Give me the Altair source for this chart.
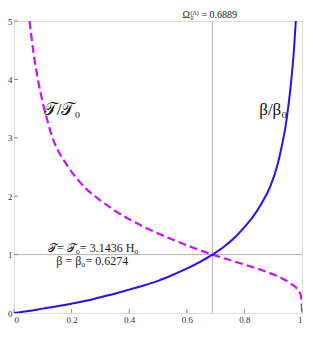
import altair as alt
import pandas as pd

# ---- data ----
beta_x = [0.0, 0.05, 0.1, 0.15, 0.2, 0.25, 0.3, 0.35, 0.4, 0.45, 0.5, 0.55, 0.6,
          0.6889, 0.73, 0.77, 0.8, 0.83, 0.86, 0.89, 0.914, 0.93, 0.943, 0.952,
          0.96, 0.966, 0.972, 0.9785]
beta_y = [0.0, 0.035, 0.075, 0.115, 0.16, 0.21, 0.27, 0.33, 0.40, 0.47, 0.55, 0.65, 0.76,
          1.0, 1.14, 1.31, 1.47, 1.65, 1.88, 2.17, 2.52, 2.86, 3.2, 3.52,
          3.85, 4.15, 4.5, 5.0]

temp_x = [0.054, 0.068, 0.083, 0.1, 0.118, 0.135, 0.151, 0.175, 0.195, 0.22, 0.25,
          0.294, 0.33, 0.36, 0.41, 0.47, 0.53, 0.6, 0.6889, 0.734, 0.78, 0.833,
          0.88, 0.92, 0.943, 0.965, 0.982, 0.992, 0.997, 0.9995, 1.0]
temp_y = [5.0, 4.45, 4.0, 3.6, 3.26, 2.98, 2.80, 2.60, 2.45, 2.29, 2.13,
          1.95, 1.82, 1.72, 1.58, 1.43, 1.30, 1.16, 1.0, 0.93, 0.86, 0.78,
          0.70, 0.62, 0.56, 0.49, 0.42, 0.35, 0.27, 0.15, 0.0]

omega_lambda = [0.6889]
ref_level = [1.0]
x_tick_values = [0, 0.2, 0.4, 0.6, 0.8, 1]
y_tick_values = [0, 1, 2, 3, 4, 5]

curve_labels = ["𝒯/𝒯₀", "β/β₀"]
curve_label_x = [0.167, 0.9]
curve_label_y = [3.48, 3.47]

note_labels = ["𝒯= 𝒯₀= 3.1436 H₀", "β = β₀= 0.6274"]
note_x = [0.275, 0.272]
note_y = [1.12, 0.89]

# ---- layout / style ----
W, H = 288, 292
FONT = "Liberation Serif"
BLUE = "#2a0dff"
MAGENTA = "#cc11ff"
GRAY = "#b4b4b4"
TXT = "#222222"

xs = alt.Scale(domain=[0, 1], nice=False, zero=False)
ys = alt.Scale(domain=[0, 5], nice=False, zero=False)

x_axis = alt.Axis(values=x_tick_values, grid=False, ticks=False, domain=False,
                  labelFont=FONT, labelFontSize=9, labelColor="#333333",
                  labelPadding=2, title=None,
                  labelExpr="datum.value == 0 ? '0' : datum.value == 1 ? '1' : format(datum.value, '.1f')")
y_axis = alt.Axis(values=y_tick_values, grid=False, ticks=False, domain=False,
                  labelFont=FONT, labelFontSize=9, labelColor="#333333",
                  labelPadding=2, title=None, format="d")


def X(field="x"):
    return alt.X(f"{field}:Q", scale=xs, axis=x_axis, title=None)


def Y(field="y"):
    return alt.Y(f"{field}:Q", scale=ys, axis=y_axis, title=None)


beta_df = pd.DataFrame({"x": beta_x, "y": beta_y})
temp_df = pd.DataFrame({"x": temp_x, "y": temp_y})

vline = alt.Chart(pd.DataFrame({"x": omega_lambda})).mark_rule(
    color=GRAY, strokeWidth=1).encode(x=X())
hline = alt.Chart(pd.DataFrame({"y": ref_level})).mark_rule(
    color=GRAY, strokeWidth=1).encode(y=Y())

xticks = alt.Chart(pd.DataFrame({"x": x_tick_values})).mark_rule(
    color="#888888", strokeWidth=1).encode(x=X(), y=alt.value(H), y2=alt.value(H - 4))
yticks = alt.Chart(pd.DataFrame({"y": y_tick_values})).mark_rule(
    color="#888888", strokeWidth=1).encode(y=Y(), x=alt.value(0), x2=alt.value(4))

beta_line = alt.Chart(beta_df).mark_line(
    color=BLUE, strokeWidth=2, interpolate="monotone", clip=True).encode(
    x=X(), y=Y(), order="x:Q")
temp_line = alt.Chart(temp_df).mark_line(
    color=MAGENTA, strokeWidth=2.2, strokeDash=[8, 4], interpolate="monotone",
    clip=True).encode(x=X(), y=Y(), order="x:Q")

curve_text = alt.Chart(pd.DataFrame({"x": curve_label_x, "y": curve_label_y,
                                     "t": curve_labels})).mark_text(
    font=FONT, fontSize=17, color="#111111", align="center", baseline="middle").encode(
    x=X(), y=Y(), text="t:N")

note_text = alt.Chart(pd.DataFrame({"x": note_x, "y": note_y, "t": note_labels})).mark_text(
    font=FONT, fontSize=12, color=TXT, align="center", baseline="middle").encode(
    x=X(), y=Y(), text="t:N")

# top annotation  Ω0^(Λ) = 0.6889 built from pieces
top_df = pd.DataFrame({"x": omega_lambda, "y": [5.0]})
omega_main = alt.Chart(top_df).mark_text(
    font=FONT, fontSize=10, color=TXT, align="left", baseline="alphabetic",
    dx=-30, dy=-3).encode(x=X(), y=Y(), text=alt.value("Ω"))
omega_sup = alt.Chart(top_df).mark_text(
    font=FONT, fontSize=6, color=TXT, align="left", baseline="alphabetic",
    dx=-22, dy=-6.5).encode(x=X(), y=Y(), text=alt.value("(Λ)"))
omega_sub = alt.Chart(top_df).mark_text(
    font=FONT, fontSize=6, color=TXT, align="left", baseline="alphabetic",
    dx=-22, dy=-1).encode(x=X(), y=Y(), text=alt.value("0"))
omega_val = alt.Chart(top_df).mark_text(
    font=FONT, fontSize=10, color=TXT, align="left", baseline="alphabetic",
    dx=-11, dy=-3).encode(x=X(), y=Y(), text=alt.value("= 0.6889"))

chart = alt.layer(
    vline, hline, xticks, yticks, temp_line, beta_line, curve_text, note_text,
    omega_main, omega_sup, omega_sub, omega_val
).properties(
    width=W, height=H,
    autosize=alt.AutoSizeParams(type="none"),
    padding={"left": 6, "top": 13, "right": 3, "bottom": 12},
).configure_view(
    stroke="#999999", strokeWidth=1
).configure(background="white")

chart.save("out.html", embed_options={"renderer": "svg", "actions": False})
